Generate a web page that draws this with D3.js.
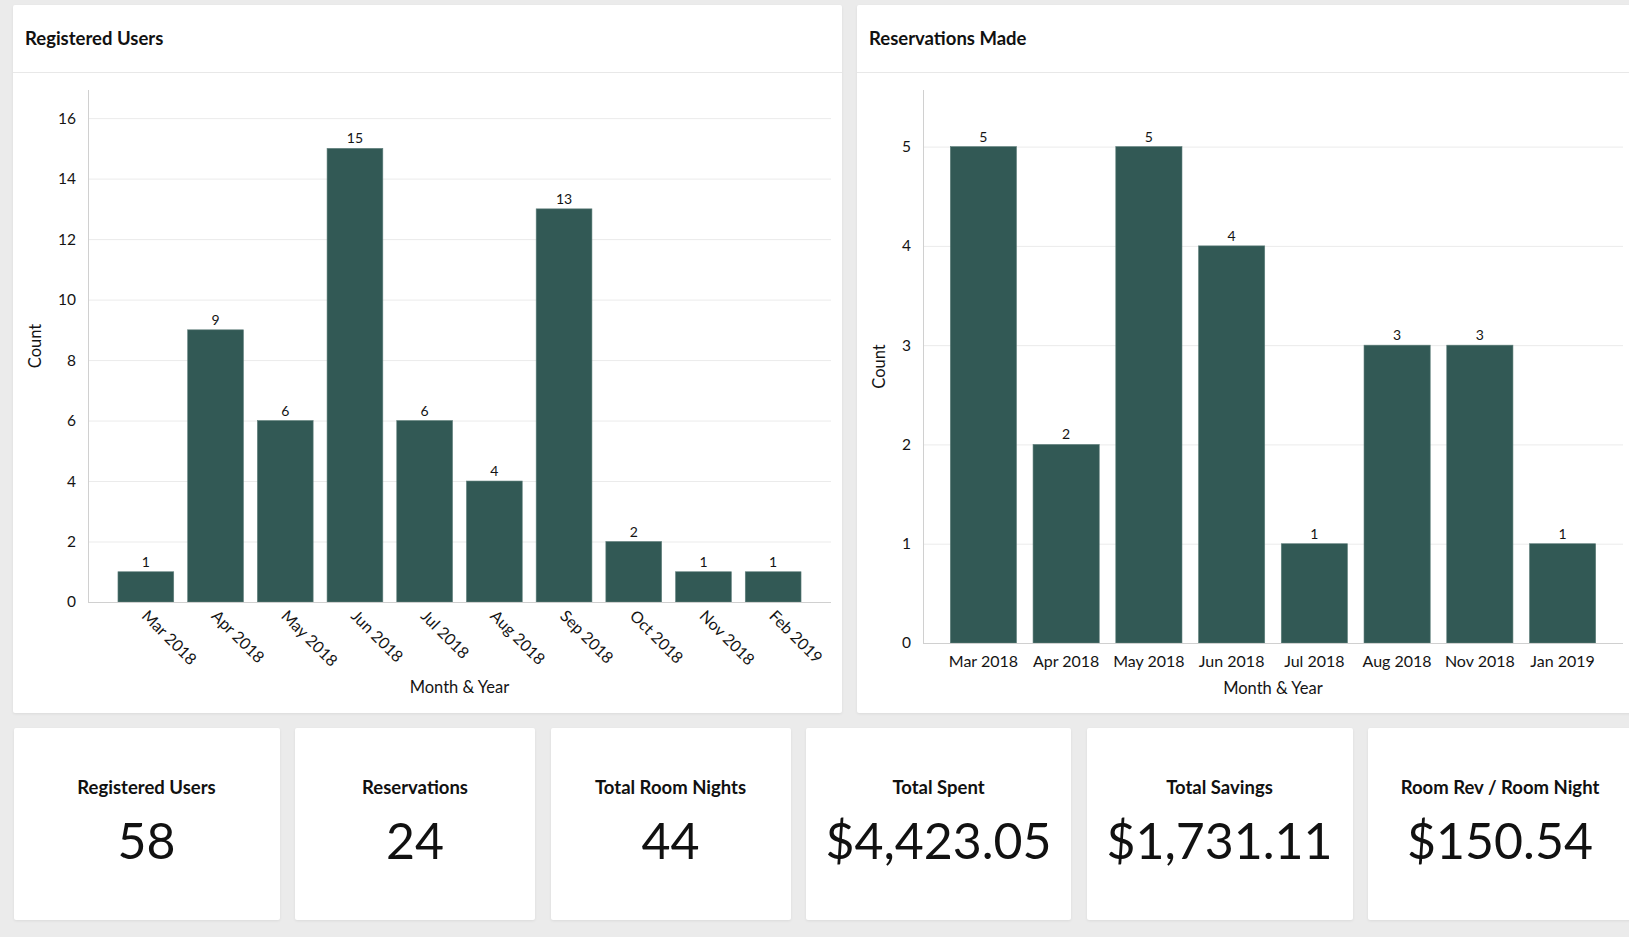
<!DOCTYPE html>
<html lang="en">
	<head>
		<meta charset="utf-8">
		<title>Bookings dashboard</title>
		<script type="text/javascript" src="https://d3js.org/d3.v7.min.js"></script>
		<style type="text/css">
				body {
					margin: 0;
					width: 1629px;
					height: 937px;
					overflow: hidden;
					background-color: #ebebeb;
					font-family: Lato, "Open Sans", sans-serif;
					color: #111;
					position: relative;
				}
				.card {
					position: absolute;
					background-color: white;
					border-radius: 2px;
					box-shadow: 0 1px 3px rgba(0,0,0,0.07);
				}
				.card svg {
					position: absolute;
					left: 0;
					top: 0;
				}
				.kpiLabel {
					position: absolute;
					left: 0;
					width: 100%;
					top: 48px;
					text-align: center;
					font-size: 18.5px;
					font-weight: bold;
				}
				.kpiValue {
					position: absolute;
					left: 0;
					width: 100%;
					top: 82px;
					text-align: center;
					font-size: 50px;
					line-height: 60px;
				}
				.tickText text, .axisTitle, .barLabel {
					fill: #141414;
				}
		</style>
	</head>
	<body>
		<script type="text/javascript">

			// Registered users per month
			var userMonths = ["Mar 2018", "Apr 2018", "May 2018", "Jun 2018", "Jul 2018",
							  "Aug 2018", "Sep 2018", "Oct 2018", "Nov 2018", "Feb 2019"];
			var userCounts = [1, 9, 6, 15, 6, 4, 13, 2, 1, 1];
			var userTicks = [0, 2, 4, 6, 8, 10, 12, 14, 16];

			// Reservations per month
			var resMonths = ["Mar 2018", "Apr 2018", "May 2018", "Jun 2018",
							 "Jul 2018", "Aug 2018", "Nov 2018", "Jan 2019"];
			var resCounts = [5, 2, 5, 4, 1, 3, 3, 1];
			var resTicks = [0, 1, 2, 3, 4, 5];

			// KPI tiles
			var kpiLabels = ["Registered Users", "Reservations", "Total Room Nights",
							 "Total Spent", "Total Savings", "Room Rev / Room Night"];
			var kpiValues = ["58", "24", "44", "$4,423.05", "$1,731.11", "$150.54"];

			var barColor = "#325955";

			function makeCard(x, y, w, h) {
				return d3.select("body").append("div")
						.attr("class", "card")
						.style("left", x + "px")
						.style("top", y + "px")
						.style("width", w + "px")
						.style("height", h + "px");
			}

			function barChart(opt) {
				var card = makeCard(opt.x, opt.y, opt.w, opt.h);
				var svg = card.append("svg")
							.attr("width", opt.w)
							.attr("height", opt.h);

				//Header
				svg.append("text")
					.attr("x", 12)
					.attr("y", 40)
					.attr("font-size", "18.5px")
					.attr("font-weight", "bold")
					.attr("fill", "#111")
					.text(opt.title);
				svg.append("line")
					.attr("x1", 0).attr("x2", opt.w)
					.attr("y1", 67.5).attr("y2", 67.5)
					.attr("stroke", "#e8e8e8");

				var xScale = d3.scaleBand()
								.domain(opt.cats)
								.range([opt.left, opt.right])
								.paddingInner(0.2)
								.paddingOuter(opt.outer);

				var yScale = d3.scaleLinear()
								.domain([0, opt.yMax])
								.range([opt.bottom, opt.top]);

				//Grid
				svg.append("g")
					.attr("transform", "translate(" + [opt.left, 0] + ")")
					.call(d3.axisLeft(yScale).tickValues(opt.ticks).tickSize(-(opt.right - opt.left)).tickFormat(""))
					.call(function(g) { g.select(".domain").remove(); })
					.selectAll("line")
					.attr("stroke", "#ebebeb");

				//Y tick labels
				svg.append("g")
					.attr("class", "tickText")
					.attr("transform", "translate(" + [opt.left, 0] + ")")
					.call(d3.axisLeft(yScale).tickValues(opt.ticks).tickFormat(d3.format("d")).tickSize(0).tickPadding(12))
					.call(function(g) { g.select(".domain").remove(); })
					.selectAll("text")
					.attr("font-family", "Lato, sans-serif")
					.attr("font-size", "15.5px");

				//Bars
				svg.selectAll("rect.bar")
					.data(opt.values)
					.enter()
					.append("rect")
					.attr("class", "bar")
					.attr("x", function(d, i) { return xScale(opt.cats[i]); })
					.attr("y", function(d) { return yScale(d); })
					.attr("width", xScale.bandwidth())
					.attr("height", function(d) { return opt.bottom - yScale(d); })
					.attr("fill", barColor)
					.attr("stroke", "#5f7f7b")
					.attr("stroke-width", 0.6);

				//Value labels
				svg.selectAll("text.barLabel")
					.data(opt.values)
					.enter()
					.append("text")
					.attr("class", "barLabel")
					.attr("text-anchor", "middle")
					.attr("x", function(d, i) { return xScale(opt.cats[i]) + xScale.bandwidth() / 2; })
					.attr("y", function(d) { return yScale(d) - 5; })
					.attr("font-size", "14px")
					.text(function(d) { return d; });

				//Axis lines
				svg.append("line")
					.attr("x1", opt.left + 0.5).attr("x2", opt.left + 0.5)
					.attr("y1", opt.top).attr("y2", opt.bottom)
					.attr("stroke", "#d0d0d0");
				svg.append("line")
					.attr("x1", opt.left).attr("x2", opt.right)
					.attr("y1", opt.bottom + 0.5).attr("y2", opt.bottom + 0.5)
					.attr("stroke", "#d0d0d0");

				//X tick labels
				var xAxis = svg.append("g")
								.attr("class", "tickText")
								.attr("transform", "translate(" + [0, opt.bottom] + ")")
								.call(d3.axisBottom(xScale).tickSize(0).tickPadding(13))
								.call(function(g) { g.select(".domain").remove(); });
				xAxis.selectAll("text")
					.attr("font-family", "Lato, sans-serif")
					.attr("font-size", "16px");
				if (opt.rotate) {
					xAxis.selectAll("text")
						.attr("x", 0)
						.attr("y", 0)
						.attr("dy", 0)
						.attr("text-anchor", "start")
						.attr("transform", "translate(-5,15) rotate(45)");
				}

				//Axis titles
				svg.append("text")
					.attr("class", "axisTitle")
					.attr("text-anchor", "middle")
					.attr("x", (opt.left + opt.right) / 2)
					.attr("y", opt.xTitleY)
					.attr("font-size", "16.5px")
					.text("Month & Year");
				svg.append("text")
					.attr("class", "axisTitle")
					.attr("text-anchor", "middle")
					.attr("transform", "translate(" + [opt.countX, (opt.top + opt.bottom) / 2] + ") rotate(-90)")
					.attr("font-size", "16.5px")
					.text("Count");
			}

			barChart({
				x: 13, y: 5, w: 829, h: 708,
				title: "Registered Users",
				cats: userMonths, values: userCounts, ticks: userTicks,
				yMax: 16.93, outer: 0.43,
				left: 75, right: 818, top: 85, bottom: 597,
				rotate: true, xTitleY: 688, countX: 28
			});

			barChart({
				x: 857, y: 5, w: 790, h: 708,
				title: "Reservations Made",
				cats: resMonths, values: resCounts, ticks: resTicks,
				yMax: 5.57, outer: 0.33,
				left: 66, right: 766, top: 85, bottom: 638,
				rotate: false, xTitleY: 689, countX: 28
			});

			//KPI tiles
			var kpiX = [13.5, 295, 550.5, 806, 1086.5, 1368];
			var kpiW = [266, 240, 240, 265, 266, 264];

			kpiLabels.forEach(function(label, i) {
				var card = makeCard(kpiX[i], 728, kpiW[i], 191.5);
				card.append("div").attr("class", "kpiLabel").text(label);
				card.append("div").attr("class", "kpiValue").text(kpiValues[i]);
			});
		</script>
	</body>
</html>
